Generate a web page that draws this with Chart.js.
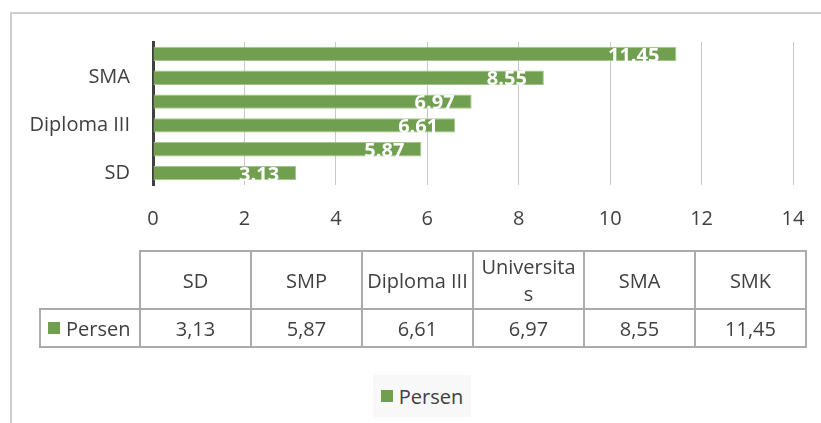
<!DOCTYPE html>
<html>
<head>
<meta charset="utf-8">
<script src="https://cdn.jsdelivr.net/npm/chart.js@4/dist/chart.umd.min.js"></script>
<style>
  html, body { margin: 0; padding: 0; background: #ffffff; }
  body { width: 821px; height: 423px; position: relative; overflow: hidden; font-family: "Open Sans", sans-serif; color: #404040; }
  #frame { position: absolute; left: 10px; top: 12px; width: 900px; height: 500px; border-left: 2px solid #cfcfcf; border-top: 2px solid #cfcfcf; box-sizing: border-box; }
  #chart { position: absolute; left: 0; top: 0; }
  .cell { position: absolute; box-sizing: border-box; border: 2px solid #ababab; display: flex; align-items: center; justify-content: center; text-align: center; font-size: 20px; line-height: 27px; padding: 0 3.5px; word-break: break-all; overflow-wrap: anywhere; color: #404040; }
  .key { display: inline-block; width: 12px; height: 12px; background: #70a04f; margin-right: 6px; }
  #legend { position: absolute; left: 373px; top: 375px; width: 98px; height: 42px; background: #f8f8f8; display: flex; align-items: center; justify-content: center; font-size: 20px; color: #404040; }
</style>
</head>
<body>
<div id="frame"></div>
<canvas id="chart" width="821" height="423"></canvas>
<div id="table"></div>
<div id="legend"></div>
<script>
// ---- data ----
const categories = ['SD', 'SMP', 'Diploma III', 'Universitas', 'SMA', 'SMK'];
const persen = [3.13, 5.87, 6.61, 6.97, 8.55, 11.45];
const seriesName = 'Persen';
const xTicks = [0, 2, 4, 6, 8, 10, 12, 14];

const GREEN = '#70a04f';
const TEXT = '#404040';
const FONT = '"Open Sans", sans-serif';

const valueLabels = {
  id: 'valueLabels',
  afterDatasetsDraw(chart) {
    const ctx = chart.ctx;
    const meta = chart.getDatasetMeta(0);
    ctx.save();
    ctx.font = 'bold 20px ' + FONT;
    ctx.fillStyle = '#ffffff';
    ctx.textAlign = 'right';
    ctx.textBaseline = 'middle';
    meta.data.forEach((bar, i) => {
      const txt = persen[i].toFixed(2);
      ctx.fillText(txt, bar.x - 17, bar.y + 2);
    });
    ctx.restore();
  }
};

new Chart(document.getElementById('chart'), {
  type: 'bar',
  data: {
    labels: categories,
    datasets: [{
      label: seriesName,
      data: persen,
      backgroundColor: GREEN,
      borderColor: '#a3c48c',
      borderWidth: 1,
      barPercentage: 0.6,
      categoryPercentage: 1.0
    }]
  },
  options: {
    indexAxis: 'y',
    responsive: false,
    animation: false,
    devicePixelRatio: 1,
    layout: { padding: { left: 0, top: 42, right: 28, bottom: 0 } },
    plugins: { legend: { display: false }, tooltip: { enabled: false } },
    scales: {
      x: {
        min: xTicks[0],
        max: xTicks[xTicks.length - 1],
        afterBuildTicks(scale) { scale.ticks = xTicks.map(v => ({ value: v })); },
        afterFit(scale) { scale.height = 238; scale.paddingLeft = 0; scale.paddingRight = 0; },
        ticks: { color: TEXT, font: { family: FONT, size: 20 }, padding: 22 },
        grid: { color: '#c8c8c8', lineWidth: 1, drawTicks: false },
        border: { display: false }
      },
      y: {
        reverse: true,
        afterFit(scale) { scale.width = 153; },
        ticks: {
          color: TEXT,
          font: { family: FONT, size: 20 },
          padding: 23,
          autoSkip: false,
          callback(value, index) { return index % 2 === 0 ? categories[index] : ''; }
        },
        grid: { display: false, drawTicks: false },
        border: { display: true, color: '#404040', width: 3 }
      }
    }
  },
  plugins: [valueLabels]
});

// ---- data table ----
const table = document.getElementById('table');
const colLeft = 139, colW = 111, headTop = 250, headH = 58, rowH = 38;
function addCell(x, y, w, h, html) {
  const d = document.createElement('div');
  d.className = 'cell';
  d.style.left = x + 'px'; d.style.top = y + 'px';
  d.style.width = w + 'px'; d.style.height = h + 'px';
  d.innerHTML = html;
  table.appendChild(d);
  return d;
}
categories.forEach((c, i) => {
  addCell(colLeft + i * colW, headTop, colW + 2, headH + 2, c);
  addCell(colLeft + i * colW, headTop + headH, colW + 2, rowH + 2, persen[i].toFixed(2).replace('.', ','));
});
const keyCell = addCell(39, headTop + headH, colLeft - 39 + 2, rowH + 2, '<span class="key"></span>' + seriesName);
keyCell.style.justifyContent = 'flex-start';
keyCell.style.paddingLeft = '7px';
keyCell.style.wordBreak = 'normal';

document.getElementById('legend').innerHTML = '<span class="key"></span>' + seriesName;
</script>
</body>
</html>
